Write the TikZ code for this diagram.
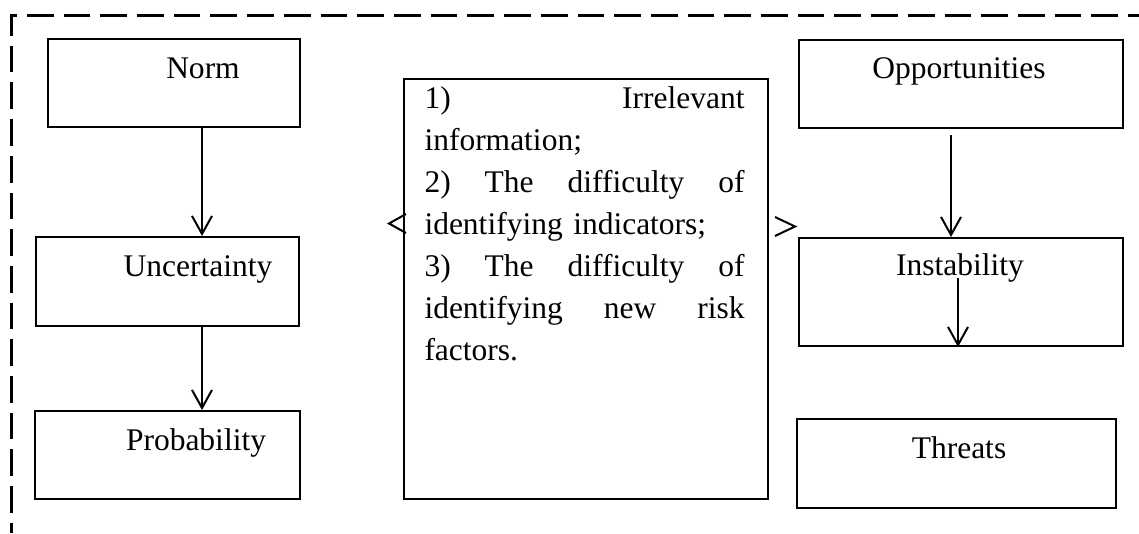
\documentclass[tikz,border=0pt]{standalone}
\usepackage{fontspec}
\setmainfont{Liberation Serif}
\usetikzlibrary{arrows.meta}
\newcommand\jline[1]{\leavevmode\hbox to 128pt{#1}}
\begin{document}
\begin{tikzpicture}[x=0.4pt,y=-0.4pt,
  box/.style={draw, line width=0.8pt, inner sep=0pt, anchor=north west},
  lbl/.style={inner sep=0pt, anchor=base, font=\fontsize{12.6}{16.8}\selectfont},
  arr/.style={line width=0.8pt, -{Straight Barb[length=7.2pt,width=8pt]}},
  barb/.style={line width=0.8pt, line join=miter},
  frame/.style={line width=1.2pt, dash pattern=on 10.68pt off 4pt, dash phase=6.28pt}]
\useasboundingbox (0,0) rectangle (1139,533);
% dashed frame
\coordinate (fr1) at (1139,15);
\coordinate (fr2) at (11,15);
\coordinate (fr3) at (11,533);
\draw[frame] (fr1) -- (fr2) -- (fr3);
% boxes
\node[box, minimum width=100.8pt, minimum height=35.2pt] (norm) at (47,38) {};
\node[box, minimum width=105.2pt, minimum height=35.6pt] (unc) at (35,236) {};
\node[box, minimum width=106pt, minimum height=35.2pt] (prob) at (34,410) {};
\node[box, minimum width=145.6pt, minimum height=168pt] (mid) at (403,78) {};
\node[box, minimum width=129.6pt, minimum height=35.2pt] (opp) at (798,39) {};
\node[box, minimum width=129.6pt, minimum height=43.2pt] (inst) at (798,237) {};
\node[box, minimum width=127.6pt, minimum height=35.6pt] (thr) at (796,418) {};
% labels
\node[lbl] (tnorm) at (203,78) {Norm};
\node[lbl] (tunc) at (198,276) {Uncertainty};
\node[lbl] (tprob) at (196,450) {Probability};
\node[lbl] (topp) at (959,78) {Opportunities};
\node[lbl] (tinst) at (960,275) {Instability};
\node[lbl] (tthr) at (959,458) {Threats};
\node[inner sep=0pt, anchor=base west, text width=128pt, align=left,
      font=\fontsize{12.6}{16.8}\selectfont] (tmid) at (424,108)
{\jline{1)\hfill Irrelevant}\\
information;\\
\jline{2)\hfill The\hfill difficulty\hfill of}\\
identifying indicators;\\
\jline{3)\hfill The\hfill difficulty\hfill of}\\
\jline{identifying\hfill new\hfill risk}\\
factors.};
% connectors
\coordinate (ax) at (202,0);
\coordinate (bx) at (951,0);
\coordinate (cx) at (958,0);
\coordinate (oppb) at (951,135);
\coordinate (insts) at (958,278);
\draw[arr] (norm.south -| ax) -- (unc.north -| ax);
\draw[arr] (unc.south -| ax) -- (prob.north -| ax);
\draw[arr] (oppb) -- (inst.north -| bx);
\draw[arr] (insts) -- (inst.south -| cx);
% stray arrow tips
\coordinate (ltip) at (389,223.5);
\coordinate (rtip) at (795,226.5);
\draw[barb] (406,214) -- (ltip) -- (406,233);
\draw[barb] (775,217) -- (rtip) -- (775,236);
\end{tikzpicture}
\end{document}
